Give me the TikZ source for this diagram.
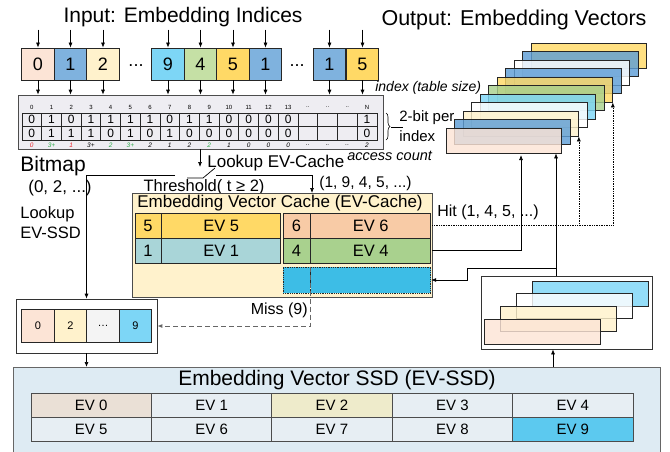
\documentclass[tikz,border=0pt]{standalone}
\usepackage{fontspec}
\setmainfont{Liberation Sans}
\usetikzlibrary{arrows.meta,positioning,decorations.pathreplacing}

\definecolor{cPeach}{HTML}{FCE4D6}
\definecolor{cBlue}{HTML}{7FB2DE}
\definecolor{cVblue}{HTML}{5E9ED6}
\definecolor{cCream}{HTML}{FFF2CC}
\definecolor{cCyan}{HTML}{7DD6F6}
\definecolor{cGreen}{HTML}{C5E0A5}
\definecolor{cGold}{HTML}{FFD966}
\definecolor{cTeal}{HTML}{A9D5D8}
\definecolor{cOrange}{HTML}{F8CBA6}
\definecolor{cLime}{HTML}{A9D18E}
\definecolor{cSky}{HTML}{3DBDE6}
\definecolor{cGrey}{HTML}{F4F4F4}
\definecolor{cBitmap}{HTML}{EEEDF2}
\definecolor{cCache}{HTML}{FFF2CC}
\definecolor{cSSD}{HTML}{DEEBF3}
\definecolor{cSSDcell}{HTML}{E7EEF3}
\definecolor{cEVzero}{HTML}{EAE0D6}
\definecolor{cEVtwo}{HTML}{EEEBCB}
\definecolor{cEVnine}{HTML}{5CC9EF}
\definecolor{cRed}{HTML}{E8242B}
\definecolor{cGrn}{HTML}{2EAA4A}

\newcommand{\fsz}[1]{\fontsize{#1}{#1}\selectfont}

\tikzset{
  tip/.style={-{Latex[length=5pt,width=4pt]}},
  cell/.style={draw=black!85, inner sep=0pt, line width=0.8pt},
  idx/.style={cell, minimum width=32.5pt, minimum height=32pt, font=\fsz{18}},
  bit/.style={draw=black!85, inner sep=0pt, minimum width=19.72pt, minimum height=13.5pt, font=\fsz{12}},
  hdr/.style={font=\fsz{6}, inner sep=0pt},
  cnt/.style={font=\fsz{6.5}\itshape, inner sep=0pt},
  evc/.style={cell, minimum height=25pt, font=\fsz{16.5}},
  vec/.style={draw=black!85, fill opacity=0.82, minimum width=115.5pt, minimum height=25pt, inner sep=0pt},
  ssdc/.style={draw=black!70, minimum width=120.4pt, minimum height=24pt, font=\fsz{15}, inner sep=0pt},
  hitline/.style={densely dotted, tip},
  missline/.style={dash pattern=on 5pt off 3pt, draw=black!60, line width=0.9pt, tip},
  lbl/.style={inner sep=0pt},
}

\begin{document}
\begin{tikzpicture}[x=1pt, y=-1pt, line width=0.7pt]
    \path[use as bounding box, clip] (0,0) rectangle (670,451);

    % input indices
    \node[font=\fsz{21}] (intitle) at (183,17) {Input: Embedding Indices};
    \foreach \x/\v/\c [count=\i] in {38/0/cPeach, 70.5/1/cBlue, 103/2/cCream, 168/9/cCyan,
        200.5/4/cGreen, 233/5/cGold, 265.5/1/cBlue, 329.5/1/cBlue, 362.5/5/cGold}
        \node[idx, fill=\c] (in\i) at (\x,64) {\v};
    \node[font=\fsz{18}] (dotsA) at (136,66) {...};
    \node[font=\fsz{18}] (dotsB) at (297,66) {...};

    % bitmap
    \node[draw=black!70, fill=cBitmap, minimum width=365pt, minimum height=54pt] (bmp) at (200.5,122) {};
    \foreach \i in {1,...,9} {
        \draw[tip] ([yshift=18pt]in\i.north) -- (in\i.north);
        \draw[tip] (in\i.south) -- (in\i.south |- bmp.north);
    }
    \foreach \hd/\ra/\rb/\ac/\cl [count=\i from 0] in {
        0/0/0/0/cRed, 1/1/1/3+/cGrn, 2/0/1/1/cRed, 3/1/1/3+/black, 4/1/0/2/cGrn,
        5/1/1/3+/cGrn, 6/1/0/2/black, 7/0/1/1/black, 8/1/0/2/black, 9/1/0/2/cGrn,
        10/0/0/1/black, 11/0/0/0/black, 12/0/0/0/black, 13/0/0/0/black,
        ../{}/{}/../black, ../{}/{}/../black, ../{}/{}/../black, N/1/0/2/black} {
        \pgfmathsetmacro\cx{21.9+19.72*(\i+0.5)}
        \node[hdr] (h\i) at (\cx,107) {\hd};
        \node[bit] (ra\i) at (\cx,119.75) {\ra};
        \node[bit] (rb\i) at (\cx,133.25) {\rb};
        \node[cnt, text=\cl] (ac\i) at (\cx,145) {\ac};
    }

    % brace and side labels
    \coordinate (brT) at (386,113);
    \coordinate (brB) at (386,140);
    \draw[decorate, decoration={brace, amplitude=4pt}, line width=0.6pt] (brT) -- (brB);
    \coordinate (brTip) at (391,127.5);
    \coordinate (brEnd) at (403,127.5);
    \draw[line width=1.2pt] (brTip) -- (brEnd);
    \node[lbl, font=\fsz{14}\itshape, anchor=west] (tsize) at (375,88) {index (table size)};
    \node[lbl, font=\fsz{15}, anchor=west] (bitper) at (399,118) {2-bit per};
    \node[lbl, font=\fsz{15}, anchor=west] (bitidx) at (399,136.5) {index};
    \node[lbl, font=\fsz{14.5}\itshape, anchor=west] (acnt) at (347,156) {access count};
    \node[lbl, font=\fsz{21}, anchor=west] (bmlbl) at (20,166) {Bitmap};
    \node[lbl, font=\fsz{17}, anchor=west] (bmsel) at (28,188) {(0, 2, ...)};
    \node[lbl, font=\fontsize{16.5}{20}\selectfont, anchor=west, align=left] (lkssd) at (20,223) {Lookup\\EV-SSD};

    % threshold switch
    \node[lbl, font=\fsz{17}, anchor=west] (lkc) at (207,163) {Lookup EV-Cache};
    \coordinate (lkTip) at (200,167);
    \draw[tip] (bmp.south -| lkTip) -- (lkTip);
    \node[lbl, font=\fsz{16.5}] (thr) at (204,187) {Threshold( t ≥ 2)};
    \coordinate (swL) at (175,175);
    \coordinate (swA) at (187,178);
    \coordinate (swB) at (203,178);
    \coordinate (swC) at (215,168);
    \coordinate (swR) at (216,175);
    \draw (swA) -- (swB) -- (swC);
    \node[lbl, font=\fsz{15.5}, anchor=west] (hitsel) at (319,183) {(1, 9, 4, 5, ...)};

    % miss queue
    \node[draw=black!80, minimum width=141pt, minimum height=54pt] (queue) at (86.5,326) {};
    \foreach \x/\v/\c [count=\i] in {38/0/cPeach, 70.5/2/cCream, 103/\ldots/cGrey, 135.5/9/cCyan}
        \node[cell, fill=\c, minimum width=32.5pt, minimum height=33pt, font=\fsz{11}] (q\i) at (\x,325.5) {\v};
    \draw[tip] (swL) -| (queue.north);

    % EV-Cache
    \node[draw=black!70, fill=cCache, minimum width=300pt, minimum height=104pt] (cache) at (282,245) {};
    \node[lbl, font=\fsz{17}] (ctitle) at (280,203) {Embedding Vector Cache (EV-Cache)};
    \node[evc, fill=cGold, minimum width=26pt] (k5) at (148,225.5) {5};
    \node[evc, fill=cGold, minimum width=119pt, right=0pt of k5] (v5) {EV 5};
    \node[evc, fill=cTeal, minimum width=26pt] (k1) at (148,250.5) {1};
    \node[evc, fill=cTeal, minimum width=119pt, right=0pt of k1] (v1) {EV 1};
    \node[evc, fill=cOrange, minimum width=27pt] (k6) at (296.5,225.5) {6};
    \node[evc, fill=cOrange, minimum width=120pt, right=0pt of k6] (v6) {EV 6};
    \node[evc, fill=cLime, minimum width=27pt] (k4) at (296.5,250.5) {4};
    \node[evc, fill=cLime, minimum width=120pt, right=0pt of k4] (v4) {EV 4};
    \node[evc, fill=cSky, densely dotted, minimum width=27pt, minimum height=26pt] (kx) at (296.5,280) {};
    \node[evc, fill=cSky, densely dotted, minimum width=120pt, minimum height=26pt, right=0pt of kx] (vx) {};
    \coordinate (cacheIn) at (312,193);
    \draw[tip] (swR) -| (cacheIn);

    % output embedding vectors
    \node[font=\fsz{21.5}] (outtitle) at (514,20) {Output: Embedding Vectors};
    \foreach \i/\c in {10/cGold, 9/cVblue, 8/white, 7/cVblue, 6/cGold, 5/cLime,
        4/cCyan, 3/white, 2/cCream, 1/cVblue, 0/cPeach}
        \node[vec, fill=\c] (ev\i) at ({503.75+8.5*\i},{140.5-8.5*\i}) {};

    % hit paths
    \coordinate (hitUp) at (521,155);
    \draw[tip] (cache.east |- v4.center) -| (hitUp);
    \draw[hitline] (cache.east |- v6.center) -| (ev6.south east);
    \draw[hitline] (ev2.south east |- v6.center) -- (ev2.south east);
    \node[lbl, font=\fsz{16}, anchor=west] (hitlbl) at (437,212) {Hit (1, 4, 5, ...)};

    % miss path
    \draw[missline] (vx.north west) |- (queue.east);
    \node[lbl, font=\fsz{16}, anchor=east] (misslbl) at (308,310) {Miss (9)};

    % EV-SSD
    \node[draw=black!60, fill=cSSD, minimum width=647pt, minimum height=90pt, anchor=north west] (ssd) at (13,367) {};
    \node[lbl, font=\fsz{21}] (stitle) at (337,380) {Embedding Vector SSD (EV-SSD)};
    \foreach \c [count=\i from 0] in {cEVzero, cSSDcell, cEVtwo, cSSDcell, cSSDcell,
        cSSDcell, cSSDcell, cSSDcell, cSSDcell, cEVnine} {
        \pgfmathsetmacro\cx{31+120.4*(mod(\i,5)+0.5)}
        \pgfmathsetmacro\cy{405+24*floor(\i/5)}
        \node[ssdc, fill=\c] (s\i) at (\cx,\cy) {EV \i};
    }
    \draw[tip] (queue.south) -- (queue.south |- ssd.north);

    % vectors read from SSD
    \node[draw=black!80, minimum width=171pt, minimum height=73pt] (outbox) at (566.5,312.5) {};
    \foreach \c [count=\k from 0] in {cCyan, white, cCream, cPeach}
        \node[vec, fill=\c] (o\k) at ({590.5-16*\k},{293.5+12.7*\k}) {};
    \coordinate (ssdOut) at (553,367);
    \draw[tip] (ssdOut) -- (ssdOut |- outbox.south);
    \coordinate (upJoin) at (556,268);
    \coordinate (upKink) at (467,268);
    \draw[tip] (outbox.north -| upJoin) -- (ev0.south -| upJoin);
    \draw[tip] (upJoin) -- (upKink) |- (vx.east);
\end{tikzpicture}
\end{document}
